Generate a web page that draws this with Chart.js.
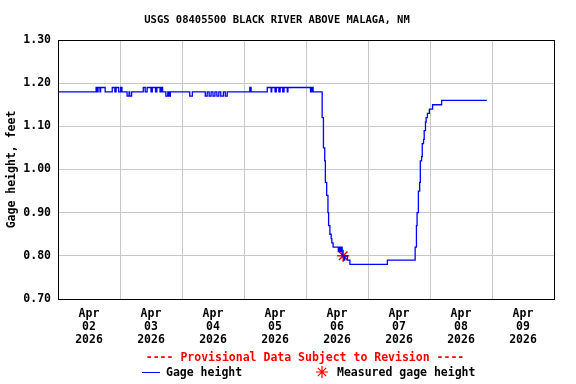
<!DOCTYPE html>
<html>
<head>
<meta charset="utf-8">
<script src="https://cdn.jsdelivr.net/npm/chart.js@4/dist/chart.umd.min.js"></script>
<style>
  html, body { margin: 0; padding: 0; background: #fff; }
  #wrap { width: 576px; height: 384px; }
</style>
</head>
<body>
<div id="wrap"><canvas id="gageChart" width="576" height="384"></canvas></div>
<script>
// hours since Apr 02 2026 00:00 and gage height (ft) at each change
const hours = [
  0, 14.75, 15, 15.5, 16.25, 16.5, 18.25, 21, 22, 22.5, 23.5, 24.25, 24.75,
  26.75, 27.5, 27.75, 28.5, 33, 33.75, 34.5, 36, 36.5, 37.75, 38.25, 39.5,
  40, 40.5, 41.75, 42.5, 43, 43.5, 51, 52, 57, 57.75, 58.5, 59.25, 60,
  60.75, 61.5, 62.25, 63, 64, 64.75, 65.5, 74.25, 74.75, 81, 82.5, 82.75,
  84, 84.5, 85.5, 86, 87, 87.5, 88.75, 89, 97.75, 98.25, 98.75,
  102.25, 102.75, 103.25, 103.5, 104, 104.5, 104.75, 105.25, 105.75, 106,
  106.5, 108.5, 108.75, 109.25, 109.5, 110, 110.75, 111, 112, 113, 127.5,
  138.25, 138.75, 139, 139.5, 140, 140.25, 140.75, 141, 141.5, 141.75,
  142.25, 142.5, 143, 143.75, 145, 148.5, 166
]
const gageHeight = [
  1.18, 1.19, 1.18, 1.19, 1.18, 1.19, 1.18, 1.19, 1.18, 1.19, 1.18, 1.19, 1.18,
  1.17, 1.18, 1.17, 1.18, 1.19, 1.18, 1.19, 1.18, 1.19, 1.18, 1.19, 1.18,
  1.19, 1.18, 1.17, 1.18, 1.17, 1.18, 1.17, 1.18, 1.17, 1.18, 1.17, 1.18, 1.17,
  1.18, 1.17, 1.18, 1.17, 1.18, 1.17, 1.18, 1.19, 1.18, 1.19, 1.18, 1.19,
  1.18, 1.19, 1.18, 1.19, 1.18, 1.19, 1.18, 1.19, 1.18, 1.19, 1.18,
  1.12, 1.05, 1.02, 0.97, 0.94, 0.90, 0.87, 0.85, 0.84, 0.83,
  0.82, 0.81, 0.82, 0.81, 0.82, 0.80, 0.79, 0.80, 0.79, 0.78, 0.79,
  0.82, 0.87, 0.90, 0.95, 0.97, 1.02, 1.03, 1.06, 1.07, 1.09,
  1.11, 1.12, 1.13, 1.14, 1.15, 1.16, 1.16
]
const measuredHours = [110.4]
const measuredHeight = [0.80]

const dayNums = ["02", "03", "04", "05", "06", "07", "08", "09"]
const monthName = "Apr"
const yearName = "2026"

const FONT = "'DejaVu Sans Mono', 'Liberation Mono', monospace"

// box round the plot + provisional note + legend underneath
const extrasPlugin = {
  id: "extras",
  afterDraw(chart) {
    const ctx = chart.ctx
    const a = chart.chartArea
    ctx.save()
    ctx.strokeStyle = "#000"
    ctx.lineWidth = 1
    ctx.strokeRect(Math.round(a.left) + 0.5, Math.round(a.top) + 0.5,
      Math.round(a.right - a.left), Math.round(a.bottom - a.top))

    ctx.font = "bold 11.5px " + FONT
    ctx.textBaseline = "middle"
    ctx.textAlign = "center"
    ctx.fillStyle = "#ff0000"
    ctx.fillText("---- Provisional Data Subject to Revision ----", 305, 358)

    // gage height entry
    ctx.strokeStyle = "#0000ff"
    ctx.beginPath()
    ctx.moveTo(142, 372.5)
    ctx.lineTo(160, 372.5)
    ctx.stroke()
    ctx.textAlign = "left"
    ctx.fillStyle = "#000"
    ctx.fillText("Gage height", 166, 373)

    // measured entry
    ctx.strokeStyle = "#ff0000"
    ctx.lineWidth = 1.2
    const sx = 322, sy = 372, r = 6
    ctx.beginPath()
    ctx.moveTo(sx - r, sy); ctx.lineTo(sx + r, sy)
    ctx.moveTo(sx, sy - r); ctx.lineTo(sx, sy + r)
    ctx.moveTo(sx - r * 0.7, sy - r * 0.7); ctx.lineTo(sx + r * 0.7, sy + r * 0.7)
    ctx.moveTo(sx - r * 0.7, sy + r * 0.7); ctx.lineTo(sx + r * 0.7, sy - r * 0.7)
    ctx.stroke()
    ctx.fillText("Measured gage height", 337, 373)
    ctx.restore()
  },
}

const ctx = document.getElementById("gageChart").getContext("2d")
const gageChart = new Chart(ctx, {
  type: "line",
  data: {
    datasets: [
      {
        label: "Gage height",
        data: hours.map((h, i) => ({ x: h, y: gageHeight[i] })),
        borderColor: "#0000ff",
        borderWidth: 1.3,
        stepped: "before",
        pointRadius: 0,
        fill: false,
      },
      {
        label: "Measured gage height",
        data: measuredHours.map((h, i) => ({ x: h, y: measuredHeight[i] })),
        showLine: false,
        pointStyle: "star",
        pointRadius: 6,
        borderColor: "#ff0000",
        backgroundColor: "#ff0000",
        pointBorderWidth: 1.5,
      },
    ],
  },
  options: {
    responsive: false,
    animation: false,
    layout: {
      padding: { left: 0, right: 22, top: 0, bottom: 35 },
    },
    plugins: {
      legend: { display: false },
      tooltip: { enabled: false },
      title: {
        display: true,
        text: "USGS 08405500 BLACK RIVER ABOVE MALAGA, NM",
        color: "#000",
        font: { family: FONT, size: 10.5, weight: "bold" },
        padding: { top: 14, bottom: 13.4 },
      },
    },
    scales: {
      x: {
        type: "linear",
        min: 0,
        max: 192,
        afterFit: (s) => { s.height = 50 },
        grid: {
          color: (c) => (c.tick && c.tick.value % 24 === 0 ? "#c8c8c8" : "rgba(0,0,0,0)"),
          drawTicks: false,
        },
        border: { color: "#000" },
        ticks: {
          stepSize: 12,
          autoSkip: false,
          maxRotation: 0,
          padding: 8,
          color: "#000",
          font: { family: FONT, size: 11.5, weight: "bold", lineHeight: 1.15 },
          callback: (v) => {
            if (v % 24 !== 12) return ""
            return [monthName, dayNums[Math.floor(v / 24)], yearName]
          },
        },
      },
      y: {
        min: 0.7,
        max: 1.3,
        afterFit: (s) => { s.width = 58 },
        grid: { color: "#c8c8c8", drawTicks: false },
        border: { color: "#000" },
        title: {
          display: true,
          text: "Gage height, feet",
          color: "#000",
          font: { family: FONT, size: 11.5, weight: "bold" },
          padding: { top: 5, bottom: 0 },
        },
        ticks: {
          stepSize: 0.1,
          padding: 7,
          color: "#000",
          font: { family: FONT, size: 11.5, weight: "bold" },
          callback: (v) => v.toFixed(2),
        },
      },
    },
  },
  plugins: [extrasPlugin],
})
</script>
</body>
</html>
